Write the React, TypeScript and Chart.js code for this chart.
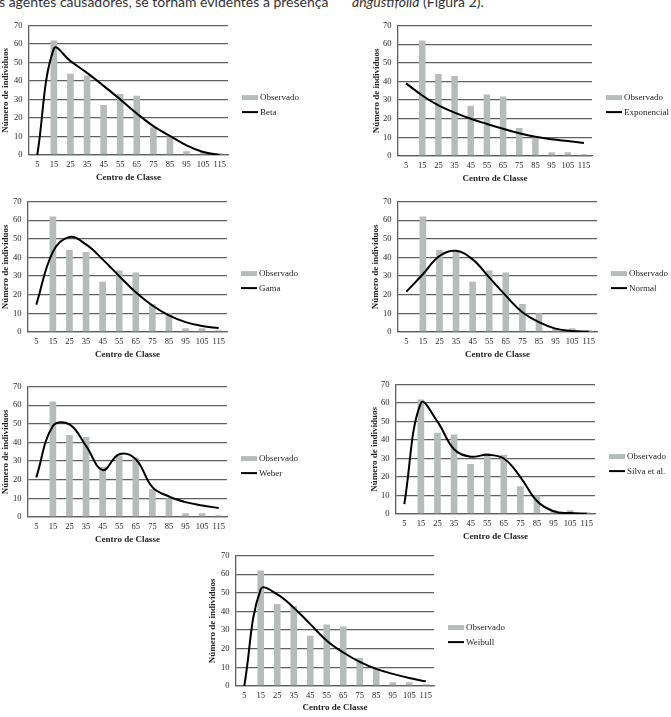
import React, { useEffect, useRef } from "react";
import { Chart, registerables } from "chart.js";

Chart.register(...registerables);

// ---------- data ----------
const categories = ["5", "15", "25", "35", "45", "55", "65", "75", "85", "95", "105", "115"];
const observado = [0, 62, 44, 43, 27, 33, 32, 15, 10, 2, 2, 1];
const beta = [0, 57.5, 50.8, 44.4, 37.4, 30.1, 22.5, 15.6, 10.3, 5.2, 1.6, 0];
const exponencial = [39, 32.5, 27.2, 23.3, 20, 17.2, 14.6, 12.2, 10.3, 9, 8, 7];
const gama = [14.7, 43, 51, 47, 39, 30, 21.3, 14.2, 8.9, 5.3, 3.2, 2.1];
const normal = [21.6, 31, 40.8, 43.6, 39, 29.3, 19.5, 10.6, 5.3, 1.8, 0.5, 0.2];
const weber = [21.3, 48.8, 49.7, 38.2, 25.2, 33.7, 31, 16, 11, 8, 6.2, 4.8];
const silva = [5.3, 60, 50, 35, 31, 32, 30, 20, 7, 1.5, 0.5, 0.2];
const weibull = [0, 52, 49.2, 42, 33.2, 24.3, 18, 13, 9.2, 6.5, 4.3, 2.5];
const yTickValues = [0, 10, 20, 30, 40, 50, 60, 70];

const barLabel = "Observado";
const yTitle = "Número de indivíduos";
const xTitle = "Centro de Classe";
const topLeftText = "s agentes causadores, se tornam evidentes a presença";
const topRightItalic = "angustifolia";
const topRightText = " (Figura 2).";

// ---------- style ----------
const BAR_COLOR = "#b6bcb9";
const GRID_COLOR = "#5f5f5f";
const TEXT_COLOR = "#1e1e1e";
const FONT = "'Liberation Serif', 'Times New Roman', serif";

type PanelCfg = {
  name: string;
  values: number[];
  L: number; R: number; T: number; B: number;
  yTitleX: number; xTitleY: number; colRight: number;
};

const panels: PanelCfg[] = [
  { name: "Beta", values: beta, L: 29, R: 228, T: 24, B: 155, yTitleX: 5, xTitleY: 178, colRight: 335 },
  { name: "Exponencial", values: exponencial, L: 398, R: 592, T: 24, B: 156, yTitleX: 376, xTitleY: 179, colRight: 671 },
  { name: "Gama", values: gama, L: 28, R: 227, T: 200, B: 332, yTitleX: 5, xTitleY: 354.5, colRight: 335 },
  { name: "Normal", values: normal, L: 398, R: 597, T: 200, B: 332, yTitleX: 375, xTitleY: 354.5, colRight: 671 },
  { name: "Weber", values: weber, L: 28, R: 227, T: 385, B: 517, yTitleX: 5, xTitleY: 540, colRight: 335 },
  { name: "Silva et al.", values: silva, L: 396, R: 595, T: 383, B: 514, yTitleX: 374, xTitleY: 537, colRight: 671 },
  { name: "Weibull", values: weibull, L: 236, R: 434, T: 554, B: 686, yTitleX: 212, xTitleY: 708, colRight: 530 },
];

const sideLegend = {
  id: "sideLegend",
  afterDraw(chart: any) {
    const { ctx, chartArea } = chart;
    const x0 = chartArea.right + 14;
    const rows = [chartArea.top + 72, chartArea.top + 86.5];
    ctx.save();
    ctx.font = `9px ${FONT}`;
    ctx.fillStyle = TEXT_COLOR;
    ctx.textBaseline = "middle";
    ctx.textAlign = "left";
    chart.data.datasets.forEach((ds: any, i: number) => {
      const y = rows[i];
      if (ds.type === "bar") {
        ctx.fillStyle = ds.backgroundColor;
        ctx.fillRect(x0, y - 2.5, 16, 5);
      } else {
        ctx.strokeStyle = ds.borderColor;
        ctx.lineWidth = 2;
        ctx.beginPath();
        ctx.moveTo(x0, y);
        ctx.lineTo(x0 + 16, y);
        ctx.stroke();
      }
      ctx.fillStyle = TEXT_COLOR;
      ctx.fillText(ds.label, x0 + 18, y + 0.5);
    });
    ctx.restore();
  },
};

function Panel({ cfg }: { cfg: PanelCfg }) {
  const ref = useRef<HTMLCanvasElement | null>(null);
  const canvasLeft = Math.round(cfg.yTitleX - 5.4);
  const canvasTop = cfg.T - 10;
  const canvasBottom = Math.round(cfg.xTitleY + 5.4);
  const width = cfg.colRight - canvasLeft;
  const height = canvasBottom - canvasTop;
  const yAxisW = cfg.L - canvasLeft;
  const xAxisH = canvasBottom - cfg.B;
  const padRight = cfg.colRight - cfg.R;

  useEffect(() => {
    if (!ref.current) return;
    const chart = new Chart(ref.current, {
      type: "bar",
      data: {
        labels: categories,
        datasets: [
          {
            type: "bar",
            label: barLabel,
            data: observado,
            backgroundColor: BAR_COLOR,
            barPercentage: 0.4,
            categoryPercentage: 1,
            order: 1,
          } as any,
          {
            type: "line",
            label: cfg.name,
            data: cfg.values,
            borderColor: "#000000",
            borderWidth: 2,
            pointRadius: 0,
            tension: 0.4,
            fill: false,
            order: 0,
          } as any,
        ],
      },
      options: {
        responsive: false,
        animation: false,
        devicePixelRatio: 1,
        layout: { padding: { top: 10, right: padRight, left: 0, bottom: 0 } },
        plugins: { legend: { display: false }, tooltip: { enabled: false } },
        scales: {
          x: {
            offset: true,
            grid: { display: false, drawTicks: false },
            border: { display: true, color: GRID_COLOR, width: 1.3 },
            ticks: { padding: 5, color: TEXT_COLOR, font: { family: FONT, size: 8.5 }, maxRotation: 0, autoSkip: false },
            title: { display: true, text: xTitle, color: TEXT_COLOR, padding: 0, font: { family: FONT, size: 9, weight: "bold" } },
            afterFit: (s: any) => { s.height = xAxisH; },
          },
          y: {
            min: 0,
            max: 70,
            afterBuildTicks: (s: any) => { s.ticks = yTickValues.map((v) => ({ value: v })); },
            grid: { color: GRID_COLOR, lineWidth: 1.3, drawTicks: false },
            border: { display: true, color: GRID_COLOR, width: 1.3 },
            ticks: { padding: 6.5, color: TEXT_COLOR, font: { family: FONT, size: 8.5 } },
            title: { display: true, text: yTitle, color: TEXT_COLOR, padding: 0, font: { family: FONT, size: 9, weight: "bold" } },
            afterFit: (s: any) => { s.width = yAxisW; },
          },
        },
      } as any,
      plugins: [sideLegend],
    });
    return () => chart.destroy();
  }, []);

  return (
    <div style={{ position: "absolute", left: canvasLeft, top: canvasTop, width, height }}>
      <canvas ref={ref} width={width} height={height} style={{ width, height, display: "block" }} />
    </div>
  );
}

const topTextStyle: React.CSSProperties = {
  position: "absolute",
  top: -5,
  fontFamily: "Lato, 'Open Sans', sans-serif",
  fontSize: 14,
  lineHeight: "14px",
  color: "#333",
  whiteSpace: "nowrap",
};

export default function App() {
  return (
    <div style={{ position: "fixed", left: 0, top: 0, width: 671, height: 717, overflow: "hidden", background: "#ffffff" }}>
      <div style={{ ...topTextStyle, left: -1 }}>{topLeftText}</div>
      <div style={{ ...topTextStyle, left: 352 }}>
        <i>{topRightItalic}</i>{topRightText}
      </div>
      {panels.map((p) => (
        <Panel key={p.name} cfg={p} />
      ))}
    </div>
  );
}
